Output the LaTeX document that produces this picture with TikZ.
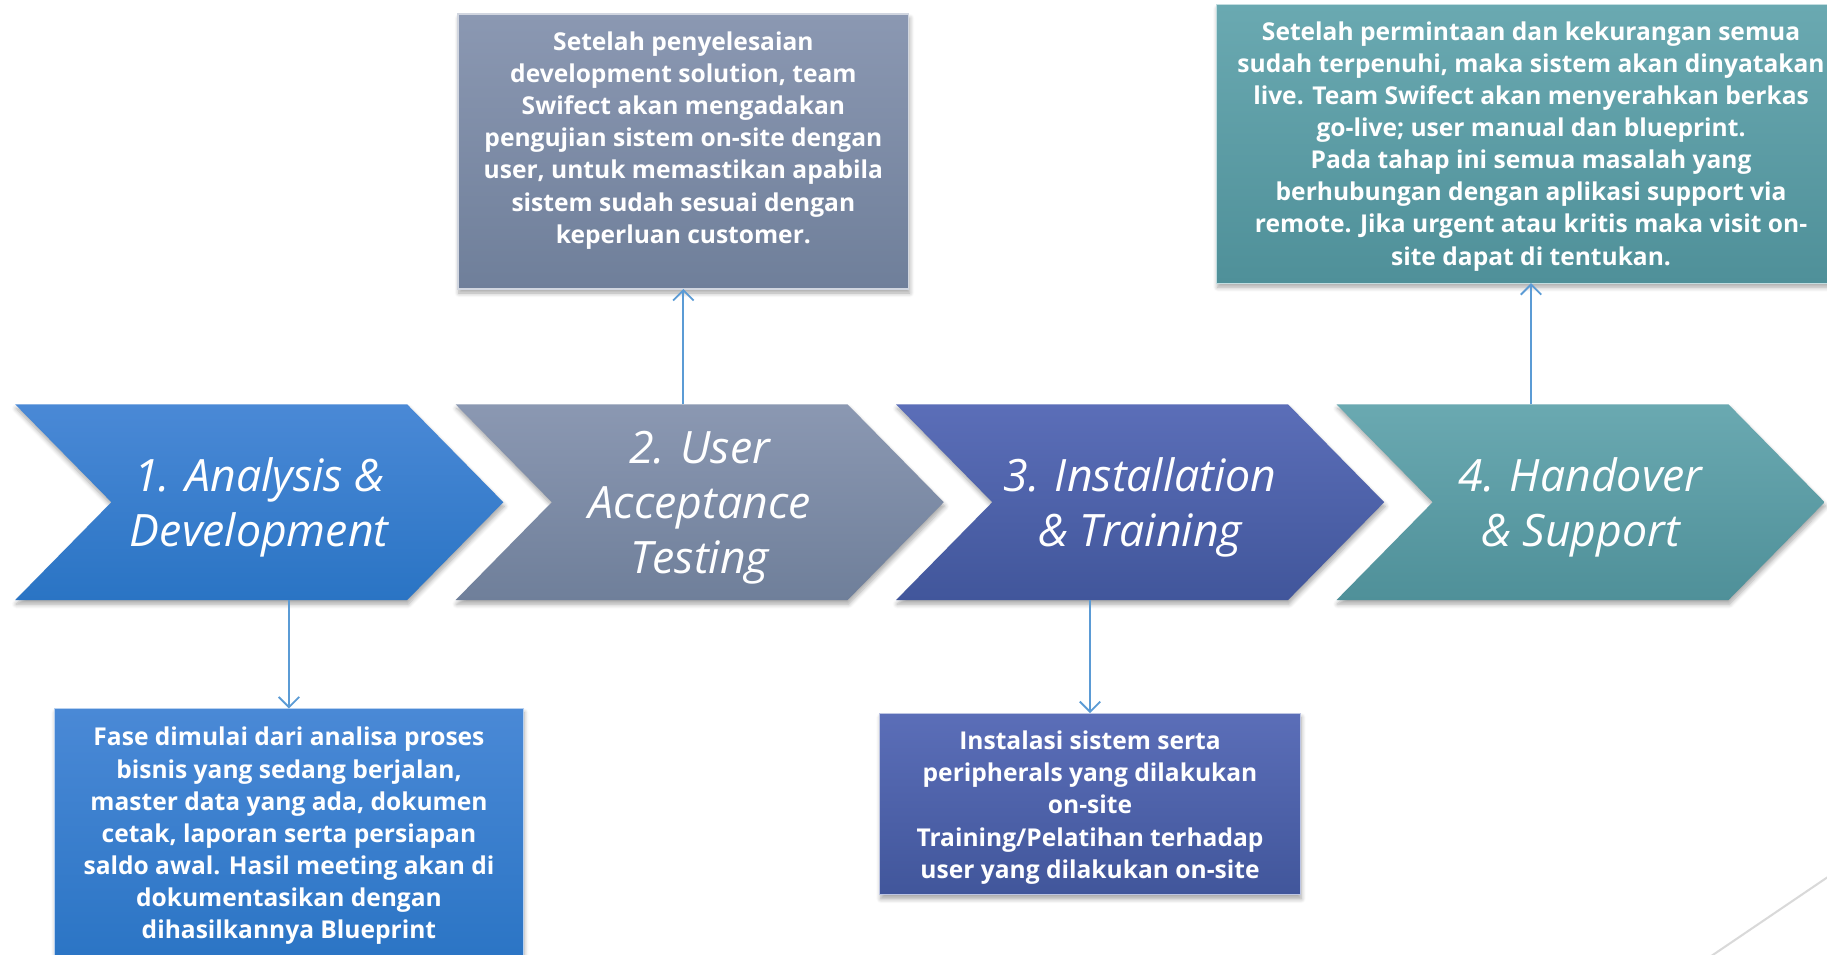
\documentclass[tikz,border=0pt]{standalone}
\usepackage{fontspec}
\setmainfont{Open Sans}
\usetikzlibrary{shapes.symbols,shadows.blur,arrows.meta}

\definecolor{anaTop}{HTML}{4A89D6}
\definecolor{anaBot}{HTML}{2A74C4}
\definecolor{uatTop}{HTML}{8B98B2}
\definecolor{uatBot}{HTML}{6F7F9A}
\definecolor{insTop}{HTML}{5B6EB8}
\definecolor{insBot}{HTML}{41569B}
\definecolor{hoTop}{HTML}{6AA9B1}
\definecolor{hoBot}{HTML}{4F9099}
\definecolor{linkblue}{HTML}{5B9BD5}
\definecolor{decogray}{HTML}{D9D9D9}

\begin{document}
\begin{tikzpicture}[x=0.02cm,y=-0.02cm,
  softshadow/.style={blur shadow={shadow xshift=0.5pt, shadow yshift=-2pt, shadow blur steps=6, shadow opacity=35}},
  chevron/.style={signal, signal from=west, signal to=east, signal pointer angle=91,
    minimum width=8.38cm, minimum height=3.36cm, inner sep=0pt, outer sep=0pt,
    text=white, align=center, font=\itshape\fontsize{21.8}{26.9}\selectfont, softshadow},
  infobox/.style={rectangle, inner sep=0pt, outer sep=0pt, draw=white!60!#1Top, line width=0.6pt, top color=#1Top, bottom color=#1Bot, softshadow},
  infotext/.style={text=white, align=center, inner sep=0pt, font=\bfseries\fontsize{12}{15.7}\selectfont},
  link/.style={draw=linkblue, line width=0.9pt, -{Straight Barb[length=5pt,width=10pt]}}]
\useasboundingbox (0,0) rectangle (1568,819);

% process chevrons
\foreach \i/\cx/\c/\txt in {1/222.5/ana/{1. Analysis \&\\Development},
                            2/600.5/uat/{2. User\\Acceptance\\Testing},
                            3/978.5/ins/{3. Installation\\\& Training},
                            4/1356.5/ho/{4. Handover\\\& Support}}
{	\node[chevron, top color=\c Top, bottom color=\c Bot, text depth=-0.06cm] (phase\i) at (\cx,431) {\txt};
}

% description boxes
\node[infobox=uat, minimum width=7.74cm, minimum height=4.72cm] (infoUat) at (586.5,130) {};
\node[infotext] (textUat) at (586.5,120.5) {Setelah penyelesaian\\development solution, team\\Swifect akan mengadakan\\pengujian sistem on-site dengan\\user, untuk memastikan apabila\\sistem sudah sesuai dengan\\keperluan customer.};

\node[infobox=ho, minimum width=10.8cm, minimum height=4.78cm] (infoHo) at (1314,123.5) {};
\node[infotext] (textHo) at (1314,125.5) {Setelah permintaan dan kekurangan semua\\sudah terpenuhi, maka sistem akan dinyatakan\\live. Team Swifect akan menyerahkan berkas\\go-live; user manual dan blueprint.\\Pada tahap ini semua masalah yang\\berhubungan dengan aplikasi support via\\remote. Jika urgent atau kritis maka visit on-\\site dapat di tentukan.};

\node[infobox=ana, minimum width=8.04cm, minimum height=4.44cm] (infoAna) at (248,719) {};
\node[infotext] (textAna) at (248,717.5) {Fase dimulai dari analisa proses\\bisnis yang sedang berjalan,\\master data yang ada, dokumen\\cetak, laporan serta persiapan\\saldo awal. Hasil meeting akan di\\dokumentasikan dengan\\dihasilkannya Blueprint};

\node[infobox=ins, minimum width=7.22cm, minimum height=3.12cm] (infoIns) at (935.5,690) {};
\node[infotext] (textIns) at (935.5,693) {Instalasi sistem serta\\peripherals yang dilakukan\\on-site\\Training/Pelatihan terhadap\\user yang dilakukan on-site};

% links
\draw[link] (phase1.south -| infoAna.north) -- (infoAna.north);
\draw[link] (phase2.north -| infoUat.south) -- (infoUat.south);
\draw[link] (phase3.south -| infoIns.north) -- (infoIns.north);
\draw[link] (phase4.north -| infoHo.south) -- (infoHo.south);

% corner line
\draw[decogray, line width=1pt] (1462,825) -- (1580,745);
\end{tikzpicture}
\end{document}
